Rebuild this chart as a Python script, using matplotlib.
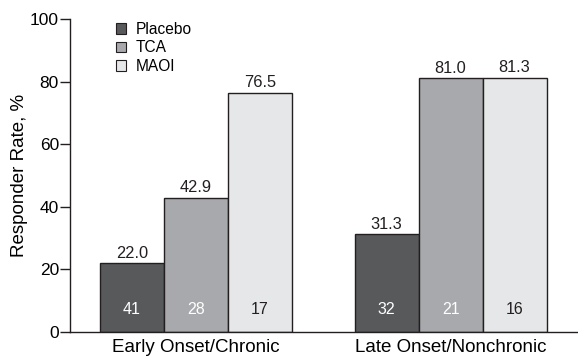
import matplotlib
matplotlib.use("Agg")
import matplotlib.pyplot as plt
import numpy as np
from matplotlib.patches import Patch

plt.rcParams['font.family'] = ['Liberation Sans', 'DejaVu Sans']

groups = ["Early Onset/Chronic", "Late Onset/Nonchronic"]
series = ["Placebo", "TCA", "MAOI"]
rates = {
    "Placebo": [22.0, 31.3],
    "TCA": [42.9, 81.0],
    "MAOI": [76.5, 81.3],
}
counts = {
    "Placebo": [41, 32],
    "TCA": [28, 21],
    "MAOI": [17, 16],
}
colors = {"Placebo": "#58595b", "TCA": "#a7a9ac", "MAOI": "#e6e7e8"}
count_colors = {"Placebo": "white", "TCA": "white", "MAOI": "#231f20"}

fig = plt.figure(figsize=(5.78, 3.58), dpi=100)
ax = fig.add_axes([0.1211, 0.0726, 0.8789, 0.8743])

width = 0.251
x = np.arange(len(groups))
for i, s in enumerate(series):
    pos = x + (i - 1) * width
    ax.bar(pos, rates[s], width, color=colors[s], edgecolor="#231f20",
           linewidth=1.0, label=s)
    for p, v, c in zip(pos, rates[s], counts[s]):
        ax.text(p, v + 0.8, f"{v:.1f}", ha="center", va="bottom", fontsize=11.8,
                color="#231f20")
        ax.text(p, 7.3, str(c), ha="center", va="center", fontsize=11.5,
                color=count_colors[s])

ax.set_xlim(-0.494, 1.5)
ax.set_ylim(0, 100)
ax.set_yticks([0, 20, 40, 60, 80, 100])
ax.set_xticks(x)
ax.set_xticklabels(groups, fontsize=13.5)
ax.tick_params(axis="x", length=0, pad=5)
ax.tick_params(axis="y", length=7, width=1, labelsize=12.5, direction="out", pad=1,
               color="#231f20")
ax.set_ylabel("Responder Rate, %", fontsize=13.5, labelpad=1)
for sp in ["top", "right"]:
    ax.spines[sp].set_visible(False)
for sp in ["left", "bottom"]:
    ax.spines[sp].set_color("#231f20")
    ax.spines[sp].set_linewidth(1.0)

handles = [Patch(facecolor=colors[s], edgecolor="#231f20", linewidth=0.8, label=s) for s in series]
ax.legend(handles=handles, loc="upper left", bbox_to_anchor=(116 / 578, 1 - 22 / 358),
          bbox_transform=fig.transFigure,
          frameon=False, fontsize=11.2, handlelength=0.65, handleheight=0.65,
          handletextpad=0.6, labelspacing=0.22, borderaxespad=0, borderpad=0)

fig.savefig("out.png", dpi=100)
